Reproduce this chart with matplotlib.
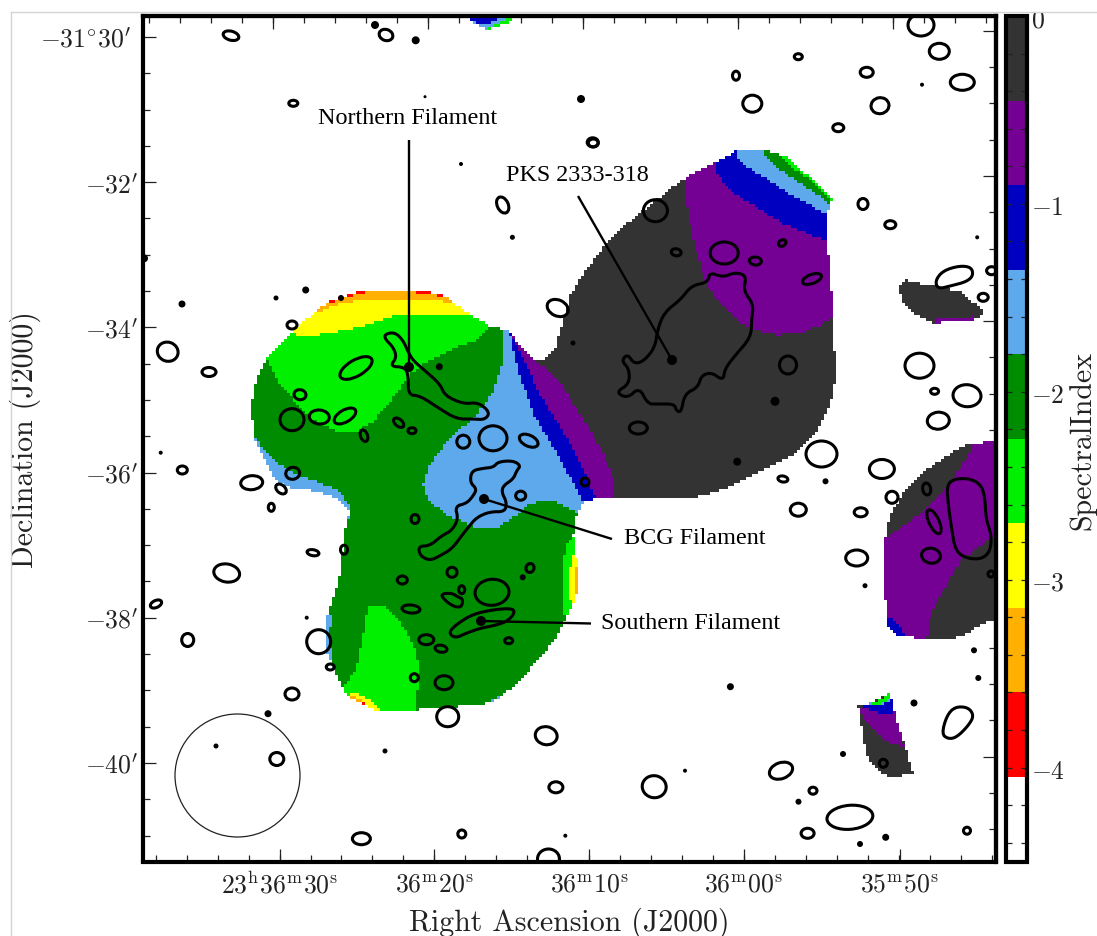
import numpy as np
import matplotlib
matplotlib.use("Agg")
import matplotlib.pyplot as plt
from matplotlib.colors import ListedColormap, BoundaryNorm
from matplotlib.colorbar import ColorbarBase
from matplotlib.patches import Ellipse, Polygon, Rectangle
from matplotlib.lines import Line2D
from matplotlib.path import Path
from matplotlib.transforms import ScaledTranslation

plt.rcParams['mathtext.fontset'] = 'cm'

W, H = 1097, 937
# spectral index classes
BOUNDS = [-4.5, -4.05, -3.6, -3.15, -2.7, -2.25, -1.8, -1.35, -0.9, -0.45, 0.0]
COLOURS = ['#ffffff', '#ff0000', '#ffb000', '#ffff00', '#00f000', '#008c00',
           '#5ea8ec', '#0000c0', '#750094', '#333333']
RED, ORANGE, YELLOW, GREEN, DGREEN, LBLUE, BLUE, PURPLE, GREY = -3.8, -3.4, -2.9, -2.5, -2.0, -1.6, -1.1, -0.7, -0.2

# Map regions in map pixels: outline, base index, then zones painted in order
MAIN_OUTLINE = [(326.7,305),(343.3,298.3),(366.7,291.7),(413.3,291.7),(443.3,296.7),(463.3,311.7),(490,328.3),(510,333.3),(518.3,346.7),(535,361.7),
    (543.6,361.7),(555.4,350),(562,326.7),(570.5,296.7),(580.5,280),(597.3,256.7),(617.4,233.3),(644.3,211.7),(671.1,190),(691.3,176.7),(718.1,163.3),(738.3,151.7),(765.1,151.7),(785.2,158.3),(808.7,178.3),(832.2,200),(827.2,216.7),(827.2,243.3),(830.5,280),(832.9,313.3),(835.6,380),(830.5,406.7),(818.8,430),(798.7,453.3),(768.5,470),(734.9,486.7),(701.3,498.3),(661.1,501),(597.3,500),(583.9,505),
    (583.3,503.3),(576.7,516.7),(573.3,536.7),(576.7,560),(576.7,596.7),(570,613.3),(556.7,640),(536.7,663.3),(516.7,686.7),(493.3,703.3),(480,706.7),(416.7,711.7),(376.7,712.7),(363.3,706.7),(346.7,696.7),(335,673.3),(326.7,653.3),(326.7,620),(333.3,600),(341.7,570),(343.3,536.7),(350,513.3),(340,501.7),(316.7,493.3),(290,490),(273.3,480),(261.7,456.7),(253.3,440),(251.7,403.3),(256.7,380),(266.7,360),(290,335),(310,318.3)]
MAIN_ZONES = [
    (LBLUE, [(254.3,436.7),(261.7,450),(276.7,465),(296.7,476.7),(316.7,483.3),(336.7,491.7),(350,506.7),(348.3,523.3),(343.3,536.7),(330,540),(240,500),(240,440)]),
    (GREEN, [(266.7,360),(280,386.7),(310,420),(336.7,433.3),(356.7,433.3),(373.3,423.3),(390,403.3),(410,376.7),(420,368.3),(446.7,353.3),(476.7,341.7),(490,328.3),(490,280),(260,280)]),
    (YELLOW, [(290,336),(311.7,338.3),(356.7,330),(393.3,318.3),(480,317.7),(495,325),(495,280),(285,280)]),
    (ORANGE, [(311,317.7),(330,308.3),(363.3,301.7),(430,301.7),(452,305),(452,280),(300,280)]),
    (RED, [(325,307),(343.3,300),(366.7,294),(413.3,294),(446,299),(450,280),(320,280)]),
    (LBLUE, [(503.3,333.3),(501.7,366.7),(491.7,396.7),(473.3,420),(450,440),(430,466.7),(423.3,486.7),(428.3,503.3),(450,518.3),(476.7,530),(496.7,530),(516.7,516.7),(530,505),(553.3,503.3),(576.7,515),(600,505),(599,505),(540,396),(511.7,333)]),
    (PURPLE, [(511.7,336.7),(533.6,361.7),(557,380),(587.2,426.7),(604,456.7),(614.1,483.3),(614.1,505),(599,505),(567.1,440),(540.3,396.7)]),
    (BLUE, [(509,333),(511.7,336.7),(540.3,396.7),(567.1,440),(599,505),(584,505),(553.7,450),(533.6,416.7),(518.5,373.3),(510,337)]),
    (GREY, [(533.6,361.7),(557,380),(587.2,426.7),(604,456.7),(614.1,483.3),(614.1,505),(850,505),(850,140),(540,140)]),
    (PURPLE, [(686.2,183.3),(686.2,203.3),(693,240),(704.7,283.3),(718.1,303.3),(734.9,320),(751.7,331.7),(778.5,336.7),(802,335),(818.8,328.3),(832.2,320),(850,320),(850,140),(700,140)]),
    (BLUE, [(714.8,168.3),(714.8,173.3),(731.5,193.3),(755,208.3),(785.2,226.7),(827.2,243.3),(850,243),(850,140),(720,140)]),
    (LBLUE, [(736.6,156.7),(741.6,165),(765.1,180),(788.6,195),(827.2,216.7),(850,216),(850,140),(740,140)]),
    (DGREEN, [(763.4,155),(775.2,168.3),(795.3,181.7),(828.9,205),(850,205),(850,140),(763,140)]),
    (GREEN, [(778,156),(790,168),(808,180),(833,203),(850,200),(850,140),(778,140)]),
    (YELLOW, [(792,165),(808,177),(832,199),(850,195),(850,140),(792,140)]),
    (GREEN, [(573.3,538),(566.7,546.7),(561.7,570),(561.7,606.7),(563.3,618.3),(580,618),(580,538)]),
    (YELLOW, [(573.3,558),(570,570),(570,600),(573,610),(580,610),(580,558)]),
    (ORANGE, [(575,570),(575,595),(580,595),(580,570)]),
    (GREEN, [(368.3,606.7),(383.3,606.7),(400,623.3),(413.3,646.7),(420,670),(415,716),(343,716),(343.3,690),(356.7,670),(363.3,636.7)]),
    (YELLOW, [(343.3,698.3),(356.7,695),(373.3,703.3),(385,716),(345,716)]),
    (ORANGE, [(346,698),(360,700),(372,716),(346,716)]),
    (RED, [(350,701),(363.3,705),(373.3,716),(345,705)]),
    (LBLUE, [(320,617),(332,618),(329,640),(334,670),(320,670)]),
    (LBLUE, [(488,705),(515,690),(520,695),(495,712)]),
]
TOP_OUTLINE = [(466.7,17),(516.7,17),(508.3,25),(486.7,32.3),(480,28.3),(470,21.7)]
TOP_ZONES = [(BLUE, [(466,17),(505,17),(485,28),(470,22)]),
             (GREEN, [(486,33),(510,25),(517,17),(505,22),(487,30)])]
CRESCENT_OUTLINE = [(904.4,273.3),(907.7,283.3),(936.2,288.3),(963.1,295),(984.9,315),(973.2,321.7),(934.6,325),(916.1,316.7),(902.7,303.3),(899.3,290),(904.4,281.7)]
CRESCENT_ZONES = [(PURPLE, [(934,320),(963,320),(975,318),(975,330),(934,330)])]
EAST_OUTLINE = [(971.7,445),(996,444),(996,621.7),(986.7,623.3),(963.3,638.3),(940,641.7),(910,639.3),(896.7,637.3),(888.3,628.3),(886.7,610),(884,593.3),(884,546.7),(889.3,520),(901.7,496.7),(926.7,471.7),(953.3,453.3)]
EAST_ZONES = [(GREY, [(886.7,540),(923.3,513.3),(950,486.7),(973.3,448.3),(950,440),(870,480),(870,545)]),
              (GREY, [(990,540),(960,563.3),(931.7,613.3),(926,645),(1000,650),(1000,540)]),
              (BLUE, [(886.7,620),(895,621.7),(905,636.7),(910,642),(885,645)])]
SOUTH_OUTLINE = [(858.3,708.3),(870,705),(881.7,700),(890,693.3),(891.7,701.7),(895,716.7),(900,733.3),(906,750),(913.3,776.7),(903.3,776.7),(893.3,780),(880,775),(868.3,760),(864,743.3),(860,720)]
SOUTH_ZONES = [(PURPLE, [(860,710),(863.3,720),(883.3,741.7),(905,750),(895,715),(890,708)]),
               (BLUE, [(860,709),(878.3,715),(893.3,716.7),(893.3,701.7),(878,705)]),
               (LBLUE, [(858,708),(878,708),(892,702),(892,698),(875,703)]),
               (GREEN, [(870,706),(882,700),(890,693),(892,700),(880,706)])]
REGIONS = [(MAIN_OUTLINE, DGREEN, MAIN_ZONES), (TOP_OUTLINE, LBLUE, TOP_ZONES),
           (CRESCENT_OUTLINE, GREY, CRESCENT_ZONES), (EAST_OUTLINE, PURPLE, EAST_ZONES),
           (SOUTH_OUTLINE, GREY, SOUTH_ZONES)]

# Contours: open rings (x, y, rx, ry, angle)
RINGS = [(167.7,352.7,10.5,9.5,20),(209,373,7,4.5,0),(292,326,5,4,0),(300,395.7,6,5,10),(292,420.7,12,11,0),(319.3,418,10,7,5),(345,417,12,6,-30),(356,369,18,8,-30),(364,436.7,3.5,6,-20),(398.7,423.7,6,3.5,40),(412,431.7,4,3,0),(463.3,442.7,6.5,6.5,0),(493,439.3,14,12.5,0),(528.7,441.7,10,5.5,25),(520.7,496.7,5,4.5,0),(585,483,4,4,0),(182.3,471,5,4,0),(251.7,483.7,11,7,-5),(292.7,474.3,7,6,-10),(281,490,6,4,40),(271.3,508.3,3,4,0),(415,520,4,4.5,0),(344,550.7,3.5,4.5,0),(313,553.7,6,3,10),(226.7,574,13,9,10),(156,605,6,3.5,-25),(187.7,641,6,6.5,0),(318.7,642.7,12,12,0),(330.3,668,4,3,0),(292,695,7,6,0),(447.7,717.7,11,10,0),(444,683.7,9,7,0),(414.3,678.7,4,4,0),(508.7,641.7,4,3,0),(441,649.7,6,3.5,10),(426.3,640.7,7.5,5,0),(411,610,9,4,5),(402.3,581,5,4,0),(452,573.3,5,5,0),(461.7,590.7,3,4,0),(530,569,4,4.5,20),(492,593.3,17,13,-5),
    (655.4,211.7,12,11,0),(676.2,253.3,5,3.5,10),(724.2,254,14,11,0),(755.4,262,6,4,5),(782.2,244,4,3,-30),(812,280,10,4.5,-20),(557.7,309,11,8,25),(638.3,429,9,6,0),(788,366,8.5,9,0),(821.5,455,15.5,13,0),(782.9,480,5,3,10),(881.9,470,12.5,9.5,0),(860.7,513.3,6.5,4.5,0),(798.3,510.7,8,6.5,0),(892,498.3,6,6,0),(919.5,366.7,14.5,12.5,0),(934.6,392.3,4,3,0),(967,396.7,14,11,5),(938.3,421.7,11,8.5,-5),(863,205,5,5.5,0),(890.3,225.7,5.5,4,0),(983.2,298.3,5,4,0),(991.6,271.7,5,4,0),(593.3,144,5,4,0),(502.7,206,5.5,8.5,-25),
    (856.7,559,11,8,0),(926.7,490,4,6,-10),(934,522.7,5,13,-25),(931,556.7,9.5,7.5,10),(991,575,3,3,0),(883.3,764.3,4,4,0),(967,831.7,3.5,3.5,0),(849.9,818.3,23,12,-5),(546.2,736.7,11,9,10),(555.9,788.3,7,5.5,0),(548.5,860,11,10,0),(654.2,787.7,12,11,10),(781,771.7,12,8,-20),(813,791.7,4,3.5,0),(807.6,834.3,6.5,5,0),(276.8,760,7,6.5,0),(361.4,839.7,9,6,0),(461.8,835,4,4,0),
    (231,36.7,8,4.5,15),(386,36,7,5.5,20),(293.3,104.3,4.5,3,0),(592.7,143.3,5.5,4.5,0),(921,26,13,11,0),(939.3,52.3,10,8,0),(962.3,83.3,12,8,0),(798.3,57.7,4,3,0),(866.7,73.3,6.5,5,0),(736,76.7,3.5,4.5,0),(752.3,104.7,9.5,8.5,0),(880,106.7,9,8,-10),(838.3,128.7,5.5,4,0)]
# Contours: filled spots (x, y, r)
SPOTS = [(305.7,291,3.5),(276,299,2.5),(182,305,3.5),(341,299,3),(439.3,367.7,3.5),(160.7,453.7,2),(306.7,618.7,2),(268,714.7,3.5),(522.7,578.3,3),(573,344,2.5),(775,402.3,4.5),(737.2,462.7,4),(825.5,482.3,3),(977.2,238.3,2),(512.4,238.3,2.5),(865,586.7,2.5),(974,651.3,3),(978.3,679,3),(914,704,3.5),(843,755,3),(885.7,838.3,3.5),(860,845,3),(565.3,836.7,2),(685,771.7,2),(730.4,687.7,3.5),(798.5,802.7,3),(216,747,2.5),(385,752,2.5),(375,26,4),(415.7,41.3,4),(425,97.7,1.5),(581,100,4),(461,165,2),(144,259.3,4),(922,85.7,2)]
# Contours: free-form closed curves
NORTH_FIL = [(385,335),(395,333.3),(403.3,341.7),(408.3,353.3),(413.3,361.7),(425,371.7),(440,385),(445,396.7),(463.3,405),(478.3,403.3),(490,413.3),(485,420.7),(473.3,420),(456.7,420),(440,410),(420,396.7),(408.3,396),(408.3,376.7),(405,368.3),(390,367.3),(396.7,358.3),(393.3,348.3),(385,340)]
BCG_FIL = [(470,483.3),(471.7,471.7),(483.3,469.3),(493.3,468.3),(498.3,462.7),(513.3,461.7),(520.7,466.7),(516.7,471.7),(513.3,480),(503.3,486.7),(501.7,493.3),(506.7,503.3),(505,512.7),(490,512.7),(476.7,518.3),(468.3,528.3),(461.7,536.7),(451.7,550),(440,556.7),(430,561.7),(420,556.7),(418.3,547.3),(430,546.7),(441.7,536.7),(451.7,531.7),(458.3,520),(455,507.3),(466.7,504.3),(473.3,496.7),(476.7,490)]
SOUTH_FIL = [(448.3,633.3),(458.3,624),(473.3,615),(493.3,610.7),(511.7,609.3),(515,613.3),(508.3,621.7),(496.7,626),(480,629.3),(466.7,634),(455,639.3)]
PKS_LOBE = [(708,283.3),(709.7,273.3),(723.2,278.3),(734.9,273.3),(746.6,276.7),(743.3,291.7),(753.4,305),(751.7,320),(751,338.3),(734.9,356.7),(724.8,370),(723.2,381.7),(711.4,373.3),(701.3,376.7),(698,388.3),(684.6,395),(681.2,413.3),(676.2,411.7),(674.5,405),(657.7,405),(647.7,405),(639.3,388.3),(627.5,399.3),(615.8,393.3),(629.2,385),(629.2,370),(621.5,361.7),(627.5,355),(634.2,365),(644.3,361.7),(655,348.3),(657.7,330),(664.4,313.3),(681.2,300),(691.3,286.7)]
BLOB_A = [(440,595),(451.7,594),(458,598),(463,600),(461.7,608),(455,608),(446.7,603)]
BLOB_B = [(935.2,281.7),(943,271.7),(959.7,266.7),(971.5,268.3),(973.2,276.7),(966.5,282.7),(951.4,286.7),(937.9,290)]
BLOB_C = [(946.7,485),(956.7,479.3),(971.7,480),(981.7,486.7),(985,500),(986,520),(991.7,536.7),(990,553.3),(980,560.7),(963.3,558.3),(955,550),(951.7,530),(948.3,506.7)]
BLOB_D = [(941.7,735),(946.7,716.7),(955,707.7),(968.3,708.3),(974,716.7),(968.3,726.7),(956.7,738.3),(948.3,740)]
CURVES = [NORTH_FIL, BCG_FIL, SOUTH_FIL, PKS_LOBE, BLOB_A, BLOB_B, BLOB_C, BLOB_D]

BEAM = (237.5, 776.5, 125, 123)
ANNOTATIONS = [("Northern Filament", (407.5, 119), (409, 141), (409, 368)),
               ("PKS 2333-318", (577, 176), (578, 197), (672, 361)),
               ("BCG Filament", (695, 539), (612, 540), (484, 500)),
               ("Southern Filament", (691, 624), (591, 624.5), (481, 622))]

X_MAJOR = [279.6, 434.3, 589, 743.8, 899.6]
X_LABELS = [r'$\mathrm{23^{h}36^{m}30^{s}}$', r'$\mathrm{36^{m}20^{s}}$', r'$\mathrm{36^{m}10^{s}}$',
            r'$\mathrm{36^{m}00^{s}}$', r'$\mathrm{35^{m}50^{s}}$']
Y_MAJOR = [38, 183.2, 328.4, 473.6, 618.8, 764]
Y_LABELS = [r"$-31^{\circ}30'$", r"$-32'$", r"$-34'$", r"$-36'$", r"$-38'$", r"$-40'$"]
CB_TICKS = [-4, -3, -2, -1, 0]
CB_LABELS = ['$-4$', '$-3$', '$-2$', '$-1$', '$0$']

L, R, T, B = 143, 995.5, 17, 862.5
fig = plt.figure(figsize=(W/100, H/100), dpi=100, facecolor='white')
ax = fig.add_axes([L/W, 1-B/H, (R-L)/W, (B-T)/H])
ax.set_xlim(L, R)
ax.set_ylim(B, T)

# spectral index image on a coarse map grid
STEP = 3.0
xc = np.arange(L, R + STEP, STEP)
yc = np.arange(T, B + STEP, STEP)
gx, gy = np.meshgrid(xc + STEP/2, yc + STEP/2)
pts = np.column_stack([gx.ravel(), gy.ravel()])
img = np.full(gx.shape, np.nan)
for outline, base, zones in REGIONS:
    inside = Path(outline).contains_points(pts).reshape(gx.shape)
    img[inside] = base
    for level, poly in zones:
        img[inside & Path(poly).contains_points(pts).reshape(gx.shape)] = level
cmap = ListedColormap(COLOURS)
norm = BoundaryNorm(BOUNDS, cmap.N)
ax.imshow(np.ma.masked_invalid(img), cmap=cmap, norm=norm, origin='upper', aspect='auto',
          interpolation='nearest', extent=(xc[0], xc[-1] + STEP, yc[-1] + STEP, yc[0]), zorder=1)
ax.set_xlim(L, R)
ax.set_ylim(B, T)

LW = 2.2
for x, y, rx, ry, ang in RINGS:
    ax.add_patch(Ellipse((x, y), 2*rx, 2*ry, angle=ang, fill=False, ec='black', lw=LW, zorder=3))
for x, y, r in SPOTS:
    ax.add_patch(Ellipse((x, y), 2*r, 2*r, fc='black', ec='none', zorder=3))

def soften(points, n=2):
    p = np.asarray(points, float)
    for _ in range(n):
        q = np.roll(p, -1, axis=0)
        p = np.column_stack([0.75*p + 0.25*q, 0.25*p + 0.75*q]).reshape(-1, 2)
    return p

for curve in CURVES:
    ax.add_patch(Polygon(soften(curve), closed=True, fill=False, ec='black', lw=LW, joinstyle='round', zorder=3))

ax.add_patch(Ellipse((BEAM[0], BEAM[1]), BEAM[2], BEAM[3], fill=False, ec='#222222', lw=0.9, zorder=3))

for text, tpos, start, end in ANNOTATIONS:
    ax.plot([start[0], end[0]], [start[1], end[1]], color='black', lw=1.7, zorder=4, solid_capstyle='butt')
    ax.add_patch(Ellipse(end, 10, 10, fc='black', ec='none', zorder=4))
    ax.text(tpos[0], tpos[1], text, family='Liberation Serif', fontsize=17.4, ha='center', va='center', color='black', zorder=5)

# ticks: the sky grid is slightly tilted, so top and right sit off the bottom and left
TICK = dict(direction='in', color='#222222')
ax.set_xticks(X_MAJOR)
ax.set_xticklabels(X_LABELS, fontsize=18.5, color='#222222')
ax.set_xticks(np.arange(X_MAJOR[0] - 4*31, R, 30.98), minor=True)
ax.set_yticks(Y_MAJOR)
ax.set_yticklabels(Y_LABELS, fontsize=18.5, color='#222222')
ax.set_yticks(np.arange(Y_MAJOR[0], B, 36.3), minor=True)
ax.tick_params(which='major', length=9.5, width=0.9, **TICK)
ax.tick_params(axis='x', which='major', pad=7)
ax.tick_params(axis='y', which='major', pad=3)
ax.tick_params(which='minor', length=5, width=0.9, **TICK)
first = ax.get_yticklabels()[0]
first.set_transform(first.get_transform() + ScaledTranslation(-8/100, 0, fig.dpi_scale_trans))
OFFSET = -6.3
top = ax.secondary_xaxis('top')
top.set_xticks([v + OFFSET for v in X_MAJOR])
top.set_xticks(np.arange(X_MAJOR[0] + OFFSET - 4*31, R, 30.98), minor=True)
top.tick_params(which='major', length=9.5, width=0.9, labeltop=False, **TICK)
top.tick_params(which='minor', length=5, width=0.9, **TICK)
right = ax.secondary_yaxis('right')
right.set_yticks([v + OFFSET for v in Y_MAJOR])
right.set_yticks(np.arange(Y_MAJOR[0] + OFFSET + 36.3, B, 36.3), minor=True)
right.tick_params(which='major', length=9.5, width=0.9, labelright=False, **TICK)
right.tick_params(which='minor', length=5, width=0.9, **TICK)
for a in (ax, top, right):
    for s in a.spines.values():
        s.set_linewidth(3)
        s.set_zorder(6)

fig.text(569/W, 1-923/H, 'Right Ascension (J2000)', family='cmr10', fontsize=21.5, ha='center', va='center', color='#222222')
fig.text(25/W, 1-440/H, 'Declination (J2000)', family='cmr10', fontsize=21.5, rotation=90, ha='center', va='center', color='#222222')

# colour bar
cax = fig.add_axes([1005.7/W, 1-B/H, 21/W, (B-T)/H])
cb = ColorbarBase(cax, cmap=cmap, norm=norm, boundaries=BOUNDS, spacing='proportional', ticks=CB_TICKS, drawedges=False)
cb.outline.set_linewidth(3)
cb.set_ticks(CB_TICKS)
cb.set_ticklabels(CB_LABELS, fontsize=18.5, color='#222222')
cax.set_yticks(np.arange(-4.4, 0, 0.2), minor=True)
cax.tick_params(which='major', direction='in', left=True, right=True, length=4.5, width=0.9, pad=3, color='#222222')
cax.tick_params(which='minor', direction='in', left=True, right=True, length=4.5, width=0.9, color='#222222')
fig.text(1082/W, 1-440/H, 'SpectralIndex', family='cmr10', fontsize=21.5, rotation=90, ha='center', va='center', color='#222222')

# page edge of the source scan
fig.add_artist(Rectangle((0, 1-12.5/H), 1, 12.5/H, transform=fig.transFigure, fc='white', ec='none', zorder=20))
fig.add_artist(Line2D([10.7/W, 1], [1-12.7/H, 1-12.7/H], color='#d4d4d4', lw=1, zorder=21))
fig.add_artist(Line2D([10.7/W, 10.7/W], [0, 1-12.7/H], color='#d4d4d4', lw=1, zorder=21))

fig.savefig('out.png', dpi=100, facecolor='white')
